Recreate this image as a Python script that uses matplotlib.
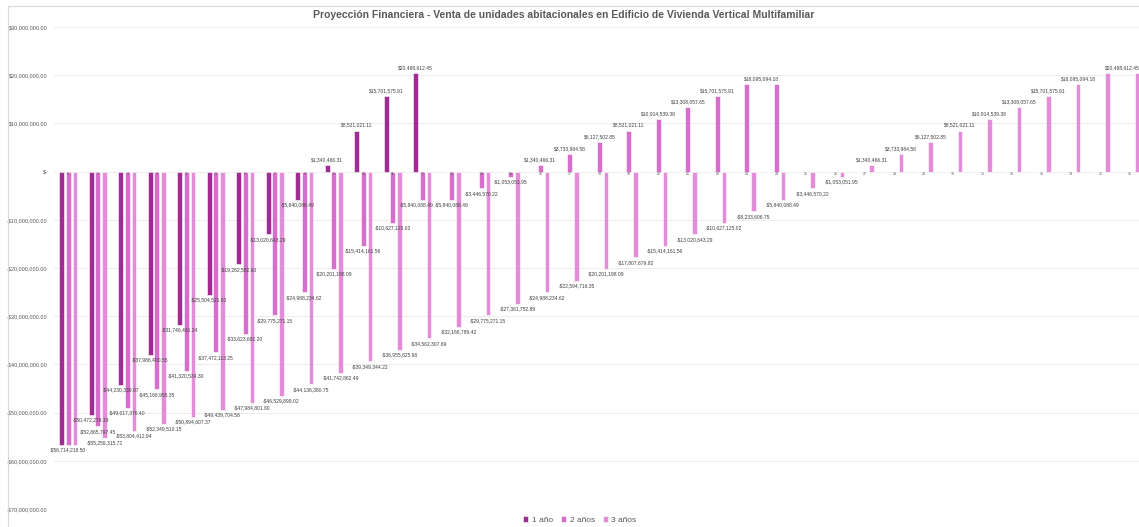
import matplotlib
matplotlib.use("Agg")
import matplotlib.pyplot as plt
from matplotlib.patches import Rectangle
import numpy as np

plt.rcParams['font.family'] = ['Liberation Sans Narrow', 'Liberation Sans', 'DejaVu Sans']

# data (month 0..36)
meses = [str(m) for m in range(37)]
series = ["1 año", "2 años", "3 años"]
colores = ["#A02B93", "#D86ECC", "#E38DD8"]

un_anio = [-56714218.50, -50472279.19, -44230339.87, -37988400.55, -31746461.24,
           -25504521.92, -19262582.60, -13020643.29, -5840088.49, 1340466.31,
           8521021.11, 15701575.91, 20488612.45,
           0, 0, 0, 0, 0, 0, 0, 0, 0, 0, 0, 0,
           0, 0, 0, 0, 0, 0, 0, 0, 0, 0, 0, 0]

dos_anios = [-56714218.50, -52865797.45, -49017376.40, -45168955.35, -41320534.30,
             -37472113.25, -33623692.20, -29775271.15, -24988234.62, -20201198.09,
             -15414161.56, -10627125.02, -5840088.49, -5840088.49, -3446570.22,
             -1053051.95, 1340466.31, 3733984.58, 6127502.85, 8521021.11,
             10914539.38, 13308057.65, 15701575.91, 18095094.18, 18095094.18,
             0, 0, 0, 0, 0, 0, 0, 0, 0, 0, 0, 0]

tres_anios = [-56714218.50, -55259315.72, -53804412.94, -52349510.15, -50894607.37,
              -49439704.58, -47984801.80, -46529899.02, -44136380.75, -41742862.49,
              -39349344.22, -36955825.96, -34562307.69, -32168789.42, -29775271.15,
              -27381752.89, -24988234.62, -22594716.35, -20201198.09, -17807679.82,
              -15414161.56, -13020643.29, -10627125.02, -8233606.75, -5840088.49,
              -3446570.22, -1053051.95, 1340466.31, 3733984.58, 6127502.85,
              8521021.11, 10914539.38, 13308057.65, 15701575.91, 18095094.18,
              20488612.45, 20488612.45]

titulo = "Proyección Financiera - Venta de unidades abitacionales en Edificio de Vivienda Vertical Multifamiliar"


def money(v):
    if v == 0:
        return "$-"
    s = f"${abs(v):,.2f}"
    return "-" + s if v < 0 else s


W, H = 1139, 527
fig = plt.figure(figsize=(W / 100, H / 100), dpi=100)
ax = fig.add_axes([53.6 / W, 1 - 509 / H, 1091.5 / W, 482 / H])

x = np.arange(len(meses))
ancho = 0.16
desp = [-0.227, 0.0, 0.227]
datos = [un_anio, dos_anios, tres_anios]

for k, (serie, vals, off, col) in enumerate(zip(series, datos, desp, colores)):
    ax.bar(x + off, vals, width=ancho, color=col, edgecolor="white",
           linewidth=0.4, label=serie, zorder=2)

    # data labels: skip zeros, merge repeated values
    nz = [i for i, v in enumerate(vals) if v != 0]
    last = nz[-1]
    for i in nz:
        v = vals[i]
        xi = x[i] + off
        # first month is the same for every series: one label in the middle
        if i == 0 and k != 1:
            continue
        if i == last and vals[i - 1] == v:
            continue
        if i == last - 1 and vals[last] == v:
            xi += 0.5
        elif i < last - 1 and vals[i + 1] == v:
            xi -= 0.2
        ax.annotate(money(v), (xi, v), xytext=(0, 2 if v > 0 else -2),
                    textcoords="offset points", ha="center",
                    va="bottom" if v > 0 else "top",
                    fontsize=3.6, color="#404040", zorder=4)

# category labels sit on the zero line
for i, m in enumerate(meses):
    ax.text(x[i], 0, m, ha="center", va="top", fontsize=2.6,
            color="#595959", zorder=5)

ax.set_xlim(-0.5, len(meses) - 0.5)
ax.set_ylim(-70e6, 30e6)
yt = np.arange(-70e6, 30e6 + 1, 10e6)
ax.set_yticks(yt)
ax.set_yticklabels([money(v) for v in yt], fontsize=4, color="#595959")
ax.set_xticks([])
ax.tick_params(axis="y", length=0, pad=4.3)
ax.grid(axis="y", color="#ededed", linewidth=0.8, zorder=0)
ax.set_axisbelow(True)
for s in ax.spines.values():
    s.set_visible(False)

fig.text(563.5 / W, 1 - 15 / H, titulo, ha="center", va="center",
         fontsize=7.5, fontweight="bold", color="#595959")

fig.patches.append(Rectangle((8 / W, -0.02), 1.1, 1 - 6 / H + 0.02,
                             transform=fig.transFigure, fill=False,
                             edgecolor="#d9d9d9", linewidth=0.8))

fig.legend(loc="center", bbox_to_anchor=(580 / W, 1 - 520 / H), ncol=3,
           frameon=False, fontsize=6, handlelength=0.6, handleheight=0.6,
           columnspacing=1.0, handletextpad=0.4, labelcolor="#595959")

fig.savefig("out.png", dpi=100)
